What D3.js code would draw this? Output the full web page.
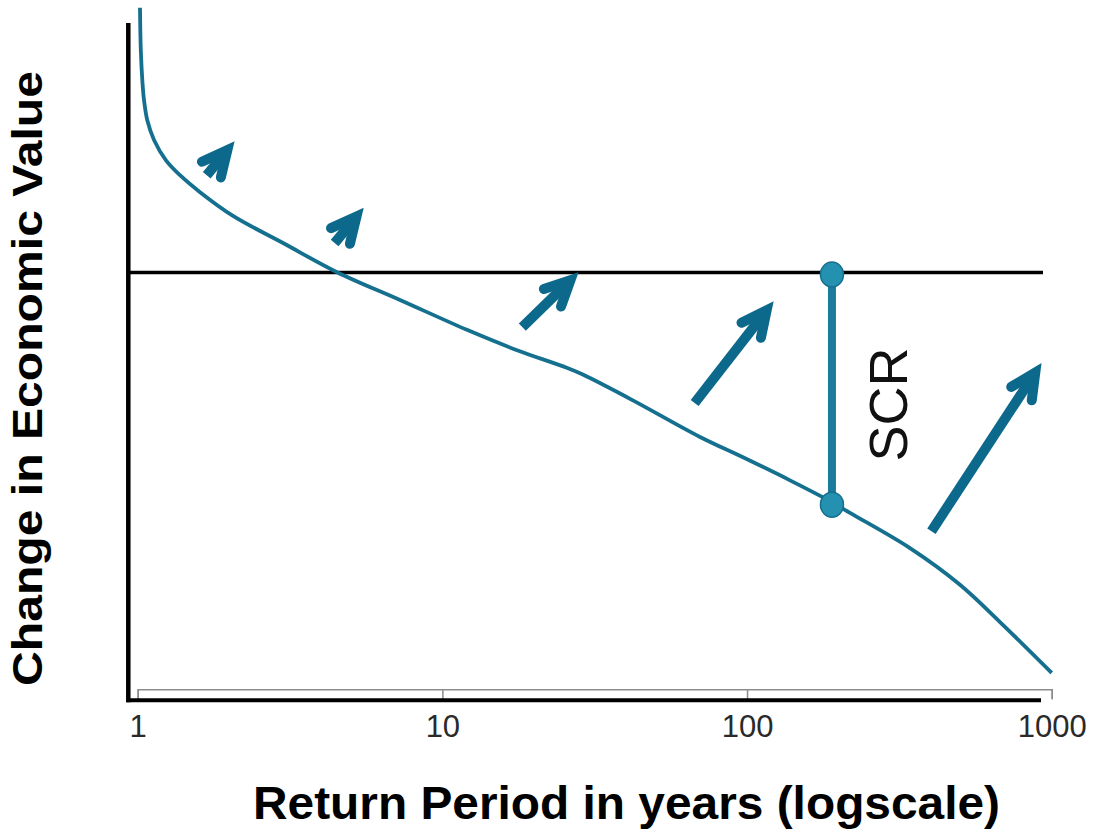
<!DOCTYPE html>
<html>
<head>
<meta charset="utf-8">
<script src="https://cdnjs.cloudflare.com/ajax/libs/d3/7.8.5/d3.min.js"></script>
<style>
  body { margin: 0; background: #fff; }
  text { font-family: "Liberation Sans", Arial, Helvetica, sans-serif; }
  .tick text { fill: #2a2a2a; font-size: 31px; }
  .axis-title { font-weight: bold; fill: #000; }
</style>
</head>
<body>
<div id="chart"></div>
<script>
const svgWidth = 1095;
const svgHeight = 836;

let margin = {
    top: 22,
    right: 43.3,
    bottom: 136,
    left: 137.7
}

// loss curve: return period (years) vs change in economic value (arbitrary units)
const returnPeriods = [1.0175, 1.0237, 1.0369, 1.0488, 1.0752, 1.1313, 1.2384, 1.3768, 1.6016, 2.0552,
    3.0, 4.51, 7.26, 12.04, 17.58, 25.6, 28.9, 42.2, 70.1, 97.0, 138.4, 191.5, 217.7,
    342.6, 500, 676.5, 1000];
const values = [102.1, 95.9, 91.0, 88.5, 85.5, 82.6, 79.6, 77.4, 74.9, 71.4,
    67.4, 63.1, 59.0, 54.6, 51.6, 49.0, 48.0, 44.2, 38.8, 35.8, 32.4, 29.1, 27.6,
    22.4, 17.0, 11.5, 4.0];

const tickValues = [1, 10, 100, 1000];
const tickLabels = ['1', '10', '100', '1000'];

// own funds level (horizontal line) and the SCR at the chosen return period
const ownFunds = 63.05;
const scrPeriod = 190;
const scrValue = 29.1;

// arrows: tail and tip as [return period, value]
const arrowTails = [[1.685, 77.4], [4.43, 67.4], [18.3, 55.0], [67.3, 43.8], [403, 24.9]];
const arrowTips = [[2.08, 82.4], [5.52, 72.6], [28.0, 63.1], [122.3, 58.8], [926, 49.7]];

const curveColor = '#15708f';
const arrowColor = '#0c698c';

let svg = d3.select('#chart')
    .append('svg')
    .attr('width', svgWidth)
    .attr('height', svgHeight)

let xScale = d3.scaleLog()
    .domain([1, 1000])
    .range([margin.left, svgWidth - margin.right]);

let yScale = d3.scaleLinear()
    .domain([0, 100])
    .range([svgHeight - margin.bottom, margin.top]);

//=================================================================
//                         Axes
//=================================================================

// grey log axis with ticks hanging down
let xAxis = d3.axisBottom(xScale)
    .tickValues(tickValues)
    .tickFormat((d, i) => tickLabels[i])
    .tickSize(10)
    .tickPadding(16);

let xAxisGroup = svg.append('g')
    .attr('transform', `translate(0, ${yScale(0) - 10.7})`)
    .call(xAxis);
xAxisGroup.selectAll('path, line')
    .attr('stroke', '#8c8c8c')
    .attr('stroke-width', 1.5);

// black frame axes
let frameLeft = xScale(1) - 9.4,
    frameBottom = yScale(0) + 0.3;

svg.append('line')
    .attr('x1', frameLeft).attr('x2', frameLeft)
    .attr('y1', yScale(100) + 1).attr('y2', frameBottom + 2)
    .attr('stroke', '#000')
    .attr('stroke-width', 4.5);

svg.append('line')
    .attr('x1', frameLeft - 2).attr('x2', xScale(1000) - 10.7)
    .attr('y1', frameBottom).attr('y2', frameBottom)
    .attr('stroke', '#000')
    .attr('stroke-width', 4);

// own funds line
svg.append('line')
    .attr('x1', frameLeft).attr('x2', xScale(1000) - 8.7)
    .attr('y1', yScale(ownFunds)).attr('y2', yScale(ownFunds))
    .attr('stroke', '#000')
    .attr('stroke-width', 3.5);

//=================================================================
//                         Curve
//=================================================================

let curveData = returnPeriods.map((rp, i) => ({ rp: rp, value: values[i] }));

let line = d3.line()
    .x(d => xScale(d.rp))
    .y(d => yScale(d.value))
    .curve(d3.curveCatmullRom.alpha(0.5));

svg.append('path')
    .datum(curveData)
    .attr('d', line)
    .attr('fill', 'none')
    .attr('stroke', curveColor)
    .attr('stroke-width', 3.8);

//=================================================================
//                         Arrows
//=================================================================

const headAngle = 26 * Math.PI / 180,
    arrowWidth = 10,
    armLength = 28;

let arrowGroup = svg.append('g');

arrowTails.forEach((tail, i) => {
    let x0 = xScale(tail[0]), y0 = yScale(tail[1]);
    let x1 = xScale(arrowTips[i][0]), y1 = yScale(arrowTips[i][1]);
    let len = Math.hypot(x1 - x0, y1 - y0);
    let ux = (x1 - x0) / len, uy = (y1 - y0) / len;
    // pull the vertex back so the mitered point lands on the tip
    let back = (arrowWidth / 2) / Math.sin(headAngle);
    let vx = x1 - ux * back, vy = y1 - uy * back;
    let ang = Math.atan2(-uy, -ux);
    let a1 = [vx + armLength * Math.cos(ang + headAngle), vy + armLength * Math.sin(ang + headAngle)];
    let a2 = [vx + armLength * Math.cos(ang - headAngle), vy + armLength * Math.sin(ang - headAngle)];

    arrowGroup.append('line')
        .attr('x1', x0).attr('y1', y0)
        .attr('x2', vx).attr('y2', vy)
        .attr('stroke', arrowColor)
        .attr('stroke-width', arrowWidth);

    arrowGroup.append('path')
        .attr('d', `M${a1[0]},${a1[1]}L${vx},${vy}L${a2[0]},${a2[1]}`)
        .attr('fill', 'none')
        .attr('stroke', arrowColor)
        .attr('stroke-width', arrowWidth)
        .attr('stroke-linejoin', 'miter')
        .attr('stroke-miterlimit', 10)
        .attr('stroke-linecap', 'round');
});

//=================================================================
//                         SCR marker
//=================================================================

svg.append('line')
    .attr('x1', xScale(scrPeriod)).attr('x2', xScale(scrPeriod))
    .attr('y1', yScale(ownFunds)).attr('y2', yScale(scrValue))
    .attr('stroke', '#1a7b9b')
    .attr('stroke-width', 8);

svg.selectAll('.scrDot')
    .data([ownFunds, scrValue])
    .enter()
    .append('ellipse')
    .classed('scrDot', true)
    .attr('cx', xScale(scrPeriod))
    .attr('cy', d => yScale(d) + 2)
    .attr('rx', 11.5)
    .attr('ry', 12.5)
    .attr('fill', '#2391af')
    .attr('stroke', '#156f8d')
    .attr('stroke-width', 1.5);

svg.append('text')
    .attr('transform', `translate(${xScale(scrPeriod) + 75}, ${(yScale(ownFunds) + yScale(scrValue)) / 2 + 17})rotate(-90)`)
    .attr('text-anchor', 'middle')
    .attr('font-size', 54)
    .attr('fill', '#111')
    .text('SCR');

//=================================================================
//                         Titles
//=================================================================

svg.append('text')
    .attr('class', 'axis-title')
    .attr('transform', `translate(42, 378.5)rotate(-90)`)
    .attr('text-anchor', 'middle')
    .attr('font-size', 42)
    .attr('textLength', 615)
    .attr('lengthAdjust', 'spacingAndGlyphs')
    .text('Change in Economic Value');

svg.append('text')
    .attr('class', 'axis-title')
    .attr('x', 626.5)
    .attr('y', 819)
    .attr('text-anchor', 'middle')
    .attr('font-size', 47)
    .attr('textLength', 747)
    .attr('lengthAdjust', 'spacingAndGlyphs')
    .text('Return Period in years (logscale)');
</script>
</body>
</html>
